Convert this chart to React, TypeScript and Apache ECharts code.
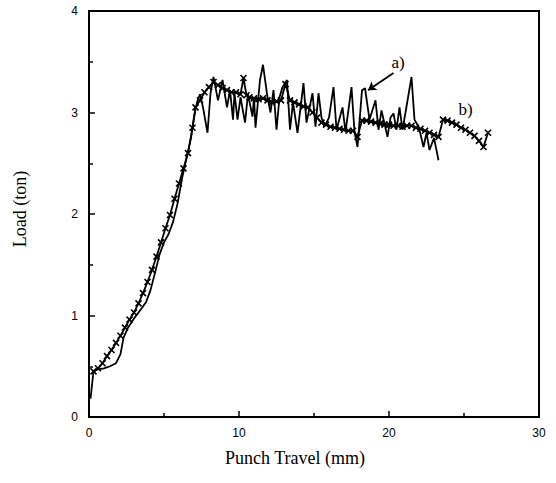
import React, { useEffect, useRef } from "react";
import * as echarts from "echarts";

// Series a) : noisy measured curve (Punch travel mm, Load ton)
const seriesA: [number, number][] = [
  [0.1, 0.18], [0.3, 0.45], [0.6, 0.47], [1.0, 0.48], [1.4, 0.5], [1.8, 0.53], [2.1, 0.62], [2.3, 0.78],
  [2.6, 0.88], [3.0, 0.97], [3.4, 1.05], [3.8, 1.13], [4.1, 1.25], [4.4, 1.42], [4.7, 1.6], [5.0, 1.72],
  [5.3, 1.8], [5.6, 1.92], [5.9, 2.1], [6.2, 2.35], [6.5, 2.55], [6.8, 2.75], [7.0, 2.95], [7.2, 3.1],
  [7.4, 3.18], [7.6, 3.05], [7.9, 2.8], [8.1, 3.19], [8.3, 3.35], [8.6, 3.12], [8.9, 3.32], [9.2, 3.05],
  [9.4, 3.22], [9.6, 2.93], [9.7, 3.19], [9.9, 2.93], [10.1, 3.15], [10.4, 2.9], [10.6, 3.18], [10.9, 2.96],
  [11.0, 3.15], [11.1, 2.85], [11.4, 3.32], [11.6, 3.47], [11.9, 3.15], [12.1, 3.0], [12.3, 3.22], [12.5, 2.83],
  [12.7, 3.15], [12.9, 3.25], [13.2, 3.32], [13.4, 2.83], [13.6, 3.1], [13.9, 2.8], [14.3, 3.29], [14.5, 2.9],
  [14.9, 3.19], [15.1, 2.86], [15.3, 3.19], [15.5, 2.95], [15.7, 2.86], [16.0, 2.95], [16.3, 3.25], [16.5, 2.83],
  [16.9, 3.05], [17.1, 2.81], [17.5, 3.25], [17.7, 2.81], [17.9, 2.66], [18.2, 3.22], [18.4, 3.24], [18.7, 2.93],
  [19.1, 3.12], [19.3, 2.83], [19.5, 3.02], [19.9, 2.76], [20.1, 2.95], [20.3, 2.99], [20.5, 2.83], [20.7, 3.05],
  [20.9, 2.83], [21.1, 3.0], [21.5, 3.35], [21.7, 2.93], [22.0, 2.85], [22.3, 2.66], [22.5, 2.8], [22.7, 2.63],
  [23.0, 2.75], [23.3, 2.53],
];

// Series b) : curve with cross markers
const seriesB: [number, number][] = [
  [0.3, 0.45], [0.6, 0.48], [0.9, 0.53], [1.2, 0.6], [1.5, 0.66], [1.8, 0.73], [2.1, 0.8], [2.4, 0.88],
  [2.7, 0.96], [3.0, 1.03], [3.3, 1.12], [3.6, 1.22], [3.9, 1.33], [4.2, 1.45], [4.5, 1.58], [4.8, 1.72],
  [5.1, 1.86], [5.4, 1.99], [5.7, 2.15], [6.0, 2.3], [6.3, 2.45], [6.6, 2.6], [6.9, 2.85], [7.1, 3.05],
  [7.4, 3.12], [7.7, 3.2], [8.0, 3.25], [8.3, 3.3], [8.6, 3.27], [8.9, 3.24], [9.2, 3.22], [9.5, 3.2],
  [9.8, 3.2], [10.1, 3.18], [10.3, 3.34], [10.5, 3.17], [10.7, 3.15], [11.0, 3.14], [11.3, 3.13], [11.6, 3.14],
  [11.9, 3.12], [12.2, 3.1], [12.5, 3.11], [12.8, 3.12], [13.1, 3.28], [13.4, 3.12], [13.7, 3.1], [14.0, 3.08],
  [14.3, 3.06], [14.6, 3.05], [14.9, 3.0], [15.2, 2.95], [15.5, 2.9], [15.8, 2.88], [16.1, 2.86], [16.4, 2.85],
  [16.7, 2.84], [17.0, 2.83], [17.3, 2.82], [17.6, 2.82], [17.9, 2.76], [18.2, 2.92], [18.5, 2.92], [18.8, 2.91],
  [19.1, 2.9], [19.4, 2.89], [19.7, 2.88], [20.0, 2.88], [20.3, 2.87], [20.6, 2.87], [20.9, 2.86], [21.2, 2.87],
  [21.5, 2.87], [21.8, 2.85], [22.1, 2.84], [22.4, 2.82], [22.7, 2.8], [23.0, 2.78], [23.3, 2.76], [23.6, 2.93],
  [23.9, 2.92], [24.2, 2.9], [24.5, 2.88], [24.8, 2.85], [25.1, 2.83], [25.4, 2.8], [25.7, 2.77], [26.0, 2.72],
  [26.3, 2.66], [26.6, 2.8],
];

const xTicks = [0, 10, 20, 30];
const yTicks = [0, 1, 2, 3, 4];

// annotation anchors (data coordinates)
const labelA: [number, number] = [20.6, 3.49];
const arrowA: [[number, number], [number, number]] = [[20.3, 3.39], [18.6, 3.22]];
const labelB: [number, number] = [25.1, 3.03];

export default function App() {
  const ref = useRef<HTMLDivElement>(null);
  useEffect(() => {
    if (!ref.current) return;
    const chart = echarts.init(ref.current, undefined, { renderer: "svg" });
    const axisCommon = {
      axisLine: { show: true, onZero: false, lineStyle: { color: "#000", width: 2 } },
      axisTick: { show: true, inside: true, length: 6, lineStyle: { color: "#000", width: 1.5 } },
      minorTick: { show: true, splitNumber: 2, length: 4, lineStyle: { color: "#000", width: 1.5 } },
      splitLine: { show: false },
    };
    chart.setOption({
      animation: false,
      backgroundColor: "#fff",
      grid: {
        left: 89, top: 11, width: 450, height: 406,
        show: true, borderColor: "#000", borderWidth: 2, backgroundColor: "transparent",
      },
      xAxis: {
        type: "value", min: xTicks[0], max: xTicks[xTicks.length - 1], interval: 10,
        ...axisCommon,
        axisLabel: { color: "#000", fontFamily: "Liberation Sans", fontSize: 12, margin: 10 },
        name: "Punch Travel (mm)", nameLocation: "middle", nameGap: 32,
        nameTextStyle: { color: "#000", fontFamily: "Liberation Serif", fontSize: 18, padding: [0, 38, 0, 0] },
      },
      yAxis: {
        type: "value", min: yTicks[0], max: yTicks[yTicks.length - 1], interval: 1,
        ...axisCommon,
        axisLabel: { color: "#000", fontFamily: "Liberation Sans", fontSize: 12, margin: 11 },
        name: "Load (ton)", nameLocation: "middle", nameGap: 60, nameRotate: 90,
        nameTextStyle: { color: "#000", fontFamily: "Liberation Serif", fontSize: 18, padding: [0, 0, 0, 10] },
      },
      series: [
        {
          name: "a)", type: "line", data: seriesA, showSymbol: false, symbol: "none",
          lineStyle: { color: "#000", width: 1.8 }, z: 2,
          markLine: {
            silent: true, symbol: ["none", "arrow"], symbolSize: 8,
            lineStyle: { color: "#000", width: 1.8, type: "solid" }, label: { show: false },
            data: [[{ coord: arrowA[0] }, { coord: arrowA[1] }]],
          },
          markPoint: {
            silent: true, symbol: "circle", symbolSize: 0,
            label: { show: true, position: "inside", color: "#000", fontFamily: "Liberation Serif", fontSize: 17, formatter: "a)" },
            data: [{ coord: labelA }],
          },
        },
        {
          name: "b)", type: "line", data: seriesB, showSymbol: true,
          symbol: "path://M0,0L10,10M10,0L0,10", symbolSize: 6,
          itemStyle: { color: "none", borderColor: "#000", borderWidth: 1.6 },
          lineStyle: { color: "#000", width: 1.8 }, z: 3,
          markPoint: {
            silent: true, symbol: "circle", symbolSize: 0,
            label: { show: true, position: "inside", color: "#000", fontFamily: "Liberation Serif", fontSize: 17, formatter: "b)" },
            data: [{ coord: labelB }],
          },
        },
      ],
    });
    return () => chart.dispose();
  }, []);
  return <div ref={ref} style={{ position: "fixed", left: 0, top: 0, width: 556, height: 483 }} />;
}
